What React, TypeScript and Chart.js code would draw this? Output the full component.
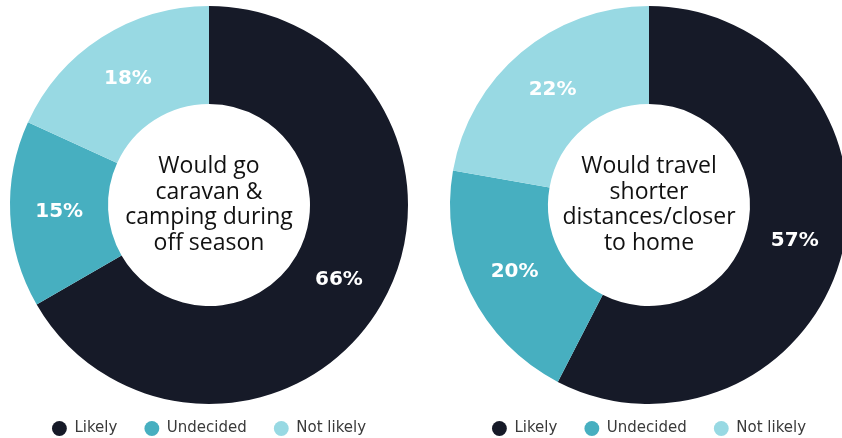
import React, { useEffect, useRef } from 'react';
import { Chart, registerables } from 'chart.js';

Chart.register(...registerables);

const categories = ['Likely', 'Undecided', 'Not likely'];
const leftValues = [66, 15, 18];
const rightValues = [57, 20, 22];
const leftTitle = ['Would go', 'caravan &', 'camping during', 'off season'];
const rightTitle = ['Would travel', 'shorter', 'distances/closer', 'to home'];
const colors = ['#161a28', '#47afc0', '#98d9e3'];

const labelPlugin = {
  id: 'sliceLabels',
  afterDatasetsDraw(chart: any) {
    const ctx = chart.ctx;
    const meta = chart.getDatasetMeta(0);
    const data = chart.data.datasets[0].data;
    ctx.save();
    ctx.font = 'bold 20px "DejaVu Sans"';
    ctx.fillStyle = '#ffffff';
    ctx.textAlign = 'center';
    ctx.textBaseline = 'middle';
    meta.data.forEach((arc: any, i: number) => {
      const p = arc.tooltipPosition();
      ctx.fillText(data[i] + '%', p.x, p.y);
    });
    ctx.restore();
  },
};

const centerPlugin = {
  id: 'centerText',
  afterDatasetsDraw(chart: any, _args: any, opts: any) {
    const lines: string[] = opts.lines || [];
    const ctx = chart.ctx;
    const area = chart.chartArea;
    const cx = (area.left + area.right) / 2;
    const cy = (area.top + area.bottom) / 2;
    ctx.save();
    ctx.font = '500 23px "Open Sans"';
    ctx.fillStyle = '#111111';
    ctx.textAlign = 'center';
    ctx.textBaseline = 'alphabetic';
    lines.forEach((l, i) => {
      ctx.fillText(l, cx, cy - 32 + i * 25.7);
    });
    ctx.restore();
  },
};

function Donut({ values, title, left }: { values: number[]; title: string[]; left: number }) {
  const ref = useRef<HTMLCanvasElement>(null);
  useEffect(() => {
    if (!ref.current) return;
    const chart = new Chart(ref.current, {
      type: 'doughnut',
      data: {
        labels: categories,
        datasets: [
          {
            data: values,
            backgroundColor: colors,
            borderWidth: 0,
            radius: 199,
            clip: false,
          } as any,
        ],
      },
      options: {
        responsive: false,
        animation: false,
        cutout: '50.75%',
        layout: { padding: { top: 16, left: 0, right: 0, bottom: 0 } },
        plugins: {
          legend: {
            display: true,
            position: 'bottom',
            labels: {
              usePointStyle: true,
              pointStyle: 'circle',
              boxWidth: 15,
              boxHeight: 10.5,
              padding: 27,
              color: '#3a3a3a',
              font: { family: '"DejaVu Sans"', size: 15 },
            },
          },
          tooltip: { enabled: false },
          centerText: { lines: title },
        } as any,
      },
      plugins: [labelPlugin, centerPlugin],
    });
    return () => chart.destroy();
  }, []);
  return (
    <canvas
      ref={ref}
      width={420}
      height={446}
      style={{ position: 'absolute', left, top: 0, width: 420, height: 446 }}
    />
  );
}

export default function App() {
  return (
    <div
      style={{
        position: 'fixed',
        left: 0,
        top: 0,
        width: 842,
        height: 438,
        overflow: 'hidden',
        background: '#ffffff',
      }}
    >
      <Donut values={leftValues} title={leftTitle} left={-1} />
      <Donut values={rightValues} title={rightTitle} left={439} />
    </div>
  );
}
